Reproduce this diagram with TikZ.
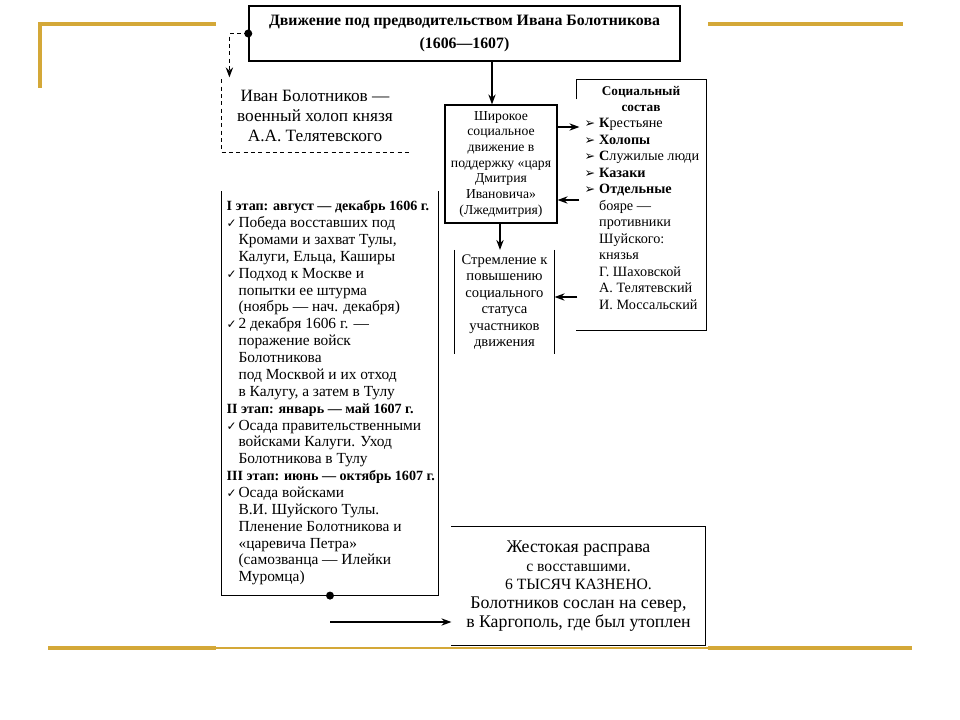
\documentclass[tikz,border=0pt]{standalone}
\usepackage{fontspec}
\setmainfont{Liberation Serif}
\newfontfamily\sym{DejaVu Sans}
\usetikzlibrary{arrows.meta,calc}
\definecolor{gold}{RGB}{212,168,56}
\newcommand\fs[2]{\fontsize{#1}{#2}\selectfont}
\newcommand\chk{\makebox[9pt][l]{\sym\fontsize{9}{9}\selectfont ✓}}
\newcommand\ind{\hspace*{9pt}}
\newcommand\arr{\makebox[11pt][l]{\sym\fontsize{9.5}{9}\selectfont ➢}}
\newcommand\aind{\hspace*{11pt}}
\newcommand\hd[1]{{\bfseries\fontsize{10.6}{12.65}\selectfont #1}}
\begin{document}
\begin{tikzpicture}[x=0.75bp,y=-0.75bp,line width=0.9bp,
  goldline/.style={gold,line width=2.3bp},
  goldthin/.style={gold,line width=1.5bp},
  arrow/.style={-{Stealth[length=7.5bp,width=5.5bp]}},
  plain/.style={inner sep=0pt}]
\useasboundingbox (0,0) rectangle (960,720);
% decorative gold lines
\draw[goldline] (216,24) -- (40,24) -- (40,88);
\draw[goldline] (708,24) -- (903,24);
\draw[goldline] (48,648) -- (216,648);
\draw[goldthin] (216,648) -- (708,648);
\draw[goldline] (708,648) -- (912,648);

% title
\node[draw,line width=1.1bp,plain,minimum width=431*0.75bp,minimum height=55*0.75bp,
  align=center,font=\bfseries\fs{11.9}{17}] (title) at (464.5,33.5)
  {Движение под предводительством Ивана Болотникова\\(1606—1607)};
\fill (title.west) circle (3bp);

% Ivan box
\node[plain,minimum width=186*0.75bp,minimum height=72*0.75bp,align=center,
  font=\fs{13}{15}] (ivan) at (315,116)
  {Иван Болотников —\\военный холоп князя\\А.А. Телятевского};
\draw[dash pattern=on 3bp off 2.5bp] (ivan.north west) -- (ivan.south west) -- (ivan.south east);
\draw[dash pattern=on 3bp off 2.5bp,arrow] (title.west) -| ($(ivan.north west)+(8,-2)$);

% wide movement box
\node[draw,plain,minimum width=112*0.75bp,minimum height=118*0.75bp,align=center,
  font=\fs{10.3}{11.8}] (wide) at (501,164)
  {Широкое\\социальное\\движение в\\поддержку «царя\\Дмитрия\\Ивановича»\\(Лжедмитрия)};
\coordinate (c1) at (492,0);
\draw[arrow] (title.south -| c1) -- (wide.north -| c1);

% social composition
\node[plain,minimum width=129*0.75bp,minimum height=250*0.75bp] (soc) at (641.5,205) {};
\draw ($(soc.north west)+(0,20)$) -- (soc.north west) -- (soc.north east) -- (soc.south east) -- (soc.south west);
\node[plain,align=center,font=\bfseries\fs{10}{12}] (sochead) at (641,99) {Социальный\\состав};
\node[plain,anchor=north west,align=left,font=\fs{10.7}{12.4}] (soclist) at (584,118)
  {\arr\textbf{К}рестьяне\\
   \arr\textbf{Холопы}\\
   \arr\textbf{С}лужилые люди\\
   \arr\textbf{Казаки}\\
   \arr\textbf{Отдельные}\\
   \aind бояре —\\
   \aind противники\\
   \aind Шуйского:\\
   \aind князья\\
   \aind Г. Шаховской\\
   \aind А. Телятевский\\
   \aind И. Моссальский};
\coordinate (r1) at (0,127);
\coordinate (r2) at (0,200);
\coordinate (r3) at (0,297);
\draw[arrow] (wide.east |- r1) -- ($(soc.west |- r1)+(3,0)$);
\draw[arrow] ($(soc.west |- r2)+(3,0)$) -- (wide.east |- r2);

% aspiration box
\node[plain,minimum width=99*0.75bp,minimum height=103*0.75bp,align=center,
  font=\fs{11}{12.4}] (strem) at (504.5,302)
  {Стремление к\\повышению\\социального\\статуса\\участников\\движения};
\draw (strem.north west) -- (strem.south west);
\draw (strem.north east) -- (strem.south east);
\coordinate (c2) at (500,0);
\draw[arrow] (wide.south -| c2) -- (strem.north -| c2);
\draw[arrow] ($(soc.west |- r3)+(1,0)$) -- (strem.east |- r3);

% stages box
\node[plain,minimum width=216*0.75bp,minimum height=403*0.75bp] (stages) at (330,393.5) {};
\draw (stages.north west) -- (stages.south west) -- (stages.south east) -- (stages.north east);
\fill (stages.south) circle (3bp);
\node[plain,anchor=north west,align=left,font=\fs{11.6}{12.7}] (stagestext) at (226,200)
  {\hd{I этап: август — декабрь 1606 г.}\\
   \chk Победа восставших под\\
   \ind Кромами и захват Тулы,\\
   \ind Калуги, Ельца, Каширы\\
   \chk Подход к Москве и\\
   \ind попытки ее штурма\\
   \ind (ноябрь — нач. декабря)\\
   \chk 2 декабря 1606 г. —\\
   \ind поражение войск\\
   \ind Болотникова\\
   \ind под Москвой и их отход\\
   \ind в Калугу, а затем в Тулу\\
   \hd{II этап: январь — май 1607 г.}\\
   \chk Осада правительственными\\
   \ind войсками Калуги. Уход\\
   \ind Болотникова в Тулу\\
   \hd{III этап: июнь — октябрь 1607 г.}\\
   \chk Осада войсками\\
   \ind В.И. Шуйского Тулы.\\
   \ind Пленение Болотникова и\\
   \ind «царевича Петра»\\
   \ind (самозванца — Илейки\\
   \ind Муромца)};

% execution box
\node[plain,minimum width=253*0.75bp,minimum height=118*0.75bp,align=center,
  font=\fs{13.4}{14}] (exec) at (578.5,586)
  {Жестокая расправа\\{\fs{11.8}{14}с восставшими.}\\{\fs{11.8}{14}6 ТЫСЯЧ КАЗНЕНО.}\\Болотников сослан на север,\\в Каргополь, где был утоплен};
\draw (exec.north west) -- (exec.north east) -- (exec.south east) -- (exec.south west);
\coordinate (s) at (330,622);
\draw[arrow] (s) -- (exec.west |- s);
\end{tikzpicture}
\end{document}
